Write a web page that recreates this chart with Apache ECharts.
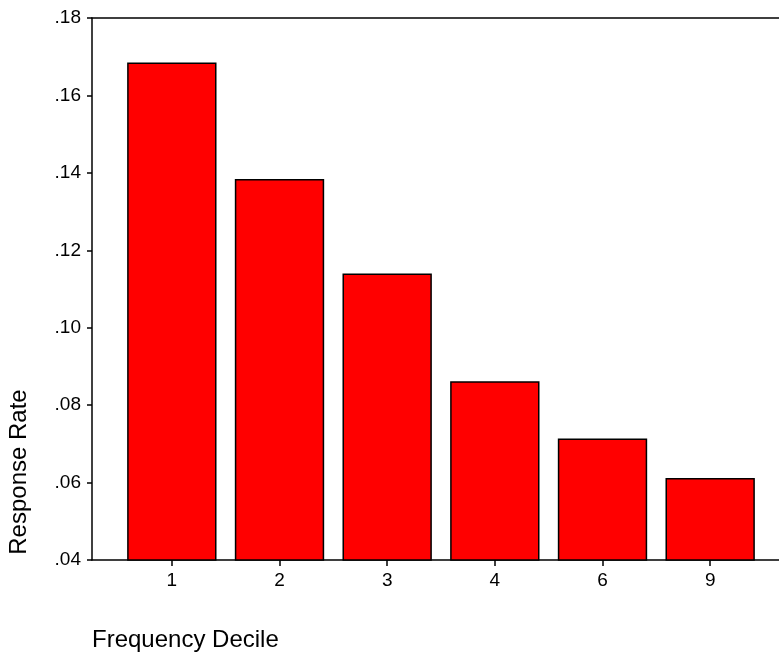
<!DOCTYPE html>
<html>
<head>
<meta charset="utf-8">
<script src="https://cdn.jsdelivr.net/npm/echarts@6/dist/echarts.min.js"></script>
<style>html,body{margin:0;padding:0;background:#fff}#c{width:779px;height:656px}</style>
</head>
<body>
<div id="c"></div>
<script>
const categories = ['1', '2', '3', '4', '6', '9'];
const responseRate = [0.1685, 0.1384, 0.1140, 0.0862, 0.0714, 0.0612];
const yMin = 0.04, yMax = 0.18, yStep = 0.02;
const xTitle = 'Frequency Decile';
const yTitle = 'Response Rate';

const FONT = 'Arial, "Liberation Sans", sans-serif';
const chart = echarts.init(document.getElementById('c'), null, {renderer: 'canvas'});
chart.setOption({
  animation: false,
  backgroundColor: '#fff',
  textStyle: {fontFamily: FONT},
  grid: [
    {left: 92, right: 0, top: 18, bottom: 96},
    {left: 118, right: 15, top: 18, bottom: 96}
  ],
  xAxis: [
    {type: 'value', gridIndex: 0, position: 'bottom', min: 0, max: 1,
     axisLine: {show: true, onZero: false, lineStyle: {color: '#000', width: 1.5}},
     axisTick: {show: false}, axisLabel: {show: false}, splitLine: {show: false}},
    {type: 'value', gridIndex: 0, position: 'top', min: 0, max: 1,
     axisLine: {show: true, onZero: false, lineStyle: {color: '#000', width: 1.5}},
     axisTick: {show: false}, axisLabel: {show: false}, splitLine: {show: false}},
    {type: 'category', gridIndex: 1, position: 'bottom', data: categories,
     axisLine: {show: false},
     axisTick: {show: true, alignWithLabel: true, length: 6, lineStyle: {color: '#000', width: 1.5}},
     axisLabel: {color: '#000', fontSize: 19, fontFamily: FONT, margin: 11},
     splitLine: {show: false}}
  ],
  yAxis: [
    {type: 'value', gridIndex: 0, min: yMin, max: yMax, interval: yStep,
     axisLine: {show: true, onZero: false, lineStyle: {color: '#000', width: 1.5}},
     axisTick: {show: true, length: 5, lineStyle: {color: '#000', width: 1.5}},
     axisLabel: {color: '#000', fontSize: 19, fontFamily: FONT, margin: 11,
       formatter: v => v.toFixed(2).replace(/^0/, '')},
     splitLine: {show: false}},
    {type: 'value', gridIndex: 1, min: yMin, max: yMax, interval: yStep, show: false,
     splitLine: {show: false}}
  ],
  series: [{
    type: 'bar',
    xAxisIndex: 2,
    yAxisIndex: 1,
    data: responseRate,
    barWidth: '83%',
    itemStyle: {color: '#ff0000', borderColor: '#000', borderWidth: 1.5}
  }],
  graphic: [
    {type: 'text', left: 92, top: 628,
     style: {text: xTitle, fill: '#000', font: '24px ' + FONT}},
    {type: 'text', x: 19, y: 472, rotation: Math.PI / 2,
     style: {text: yTitle, fill: '#000', font: '24px ' + FONT, align: 'center', verticalAlign: 'middle'}}
  ]
});
</script>
</body>
</html>
